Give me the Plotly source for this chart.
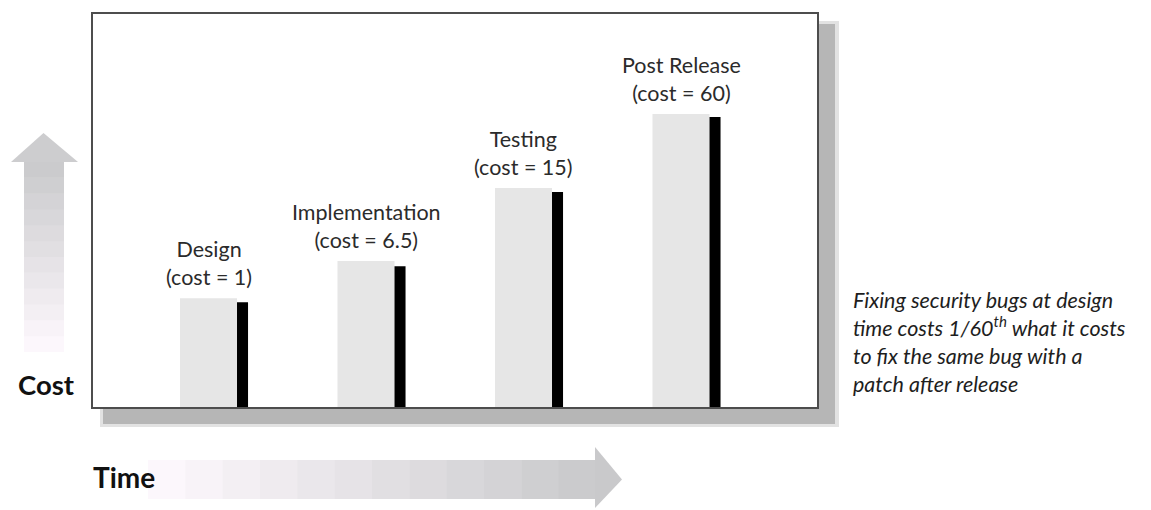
import plotly.graph_objects as go

W, H = 1151, 510

# ---- data ----
phases = ["Design", "Implementation", "Testing", "Post Release"]
cost_labels = ["cost = 1", "cost = 6.5", "cost = 15", "cost = 60"]
phase_pos = [0, 1, 2, 3]
bar_height = [27.8, 37.2, 55.7, 74.4]      # light grey bars (% of box height)
edge_height = [26.8, 35.9, 54.7, 73.7]     # black edge bars
note_lines = ["Fixing security bugs at design",
              "time costs 1/60<sup>th</sup> what it costs",
              "to fix the same bug with a",
              "patch after release"]

FONT = "Lato, Roboto, sans-serif"

def px(x):
    return x / W

def py(y):
    return 1 - y / H

fig = go.Figure()
fig.add_trace(go.Bar(x=phase_pos, y=bar_height, width=0.362, offset=-0.181,
                     marker=dict(color="#e6e6e6", line=dict(width=0)),
                     hoverinfo="skip", showlegend=False))
fig.add_trace(go.Bar(x=phase_pos, y=edge_height, width=0.07, offset=0.181,
                     marker=dict(color="#000000", line=dict(width=0)),
                     hoverinfo="skip", showlegend=False))

shapes = []
# drop shadow
shapes.append(dict(type="rect", xref="paper", yref="paper", layer="below",
                   x0=px(100), x1=px(839), y0=py(427), y1=py(21),
                   fillcolor="#e2e2e2", line=dict(width=0)))
shapes.append(dict(type="rect", xref="paper", yref="paper", layer="below",
                   x0=px(103), x1=px(835), y0=py(424), y1=py(24),
                   fillcolor="#b6b6b6", line=dict(width=0)))
# white box
shapes.append(dict(type="rect", xref="paper", yref="paper", layer="below",
                   x0=px(92), x1=px(818), y0=py(408), y1=py(13),
                   fillcolor="#ffffff", line=dict(width=0)))
# box border (on top of bars)
shapes.append(dict(type="rect", xref="paper", yref="paper", layer="above",
                   x0=px(92), x1=px(818), y0=py(408), y1=py(13),
                   fillcolor="rgba(0,0,0,0)", line=dict(color="#4d4d4d", width=2)))

# stepped gradient helper
def lerp(c0, c1, t):
    return "rgb(%d,%d,%d)" % tuple(round(a + (b - a) * t) for a, b in zip(c0, c1))

light = (252, 247, 252)
dark = (203, 203, 205)

# up arrow (Cost)
n = 12
y_bot, y_top = 352, 162
for i in range(n):
    ya = y_bot - (y_bot - y_top) * i / n
    yb = y_bot - (y_bot - y_top) * (i + 1) / n
    shapes.append(dict(type="rect", xref="paper", yref="paper", layer="below",
                       x0=px(24), x1=px(64), y0=py(ya), y1=py(yb - 0.5),
                       fillcolor=lerp(light, dark, i / (n - 1)), line=dict(width=0)))
shapes.append(dict(type="path", xref="paper", yref="paper", layer="below",
                   path="M %f %f L %f %f L %f %f Z" % (px(11), py(162), px(43.5), py(133), px(78), py(162)),
                   fillcolor="rgb(205,205,207)", line=dict(width=0)))

# right arrow (Time)
x_l, x_r = 148, 596
for i in range(n):
    xa = x_l + (x_r - x_l) * i / n
    xb = x_l + (x_r - x_l) * (i + 1) / n
    shapes.append(dict(type="rect", xref="paper", yref="paper", layer="below",
                       x0=px(xa), x1=px(xb + 0.5), y0=py(499), y1=py(460),
                       fillcolor=lerp(light, dark, i / (n - 1)), line=dict(width=0)))
shapes.append(dict(type="path", xref="paper", yref="paper", layer="below",
                   path="M %f %f L %f %f L %f %f Z" % (px(595), py(447), px(622), py(479.5), px(595), py(508)),
                   fillcolor="rgb(201,201,203)", line=dict(width=0)))

annotations = []
for p, name, cl, h in zip(phase_pos, phases, cost_labels, bar_height):
    annotations.append(dict(x=p, y=h, xref="x", yref="y", xanchor="center", yanchor="bottom",
                            yshift=6, showarrow=False,
                            text=f"{name}<br>({cl})",
                            font=dict(family=FONT, size=21.5, color="#2b2b2b")))
annotations.append(dict(x=px(16), y=py(384), xref="paper", yref="paper", xanchor="left",
                        yanchor="middle", showarrow=False, text="<b>Cost</b>",
                        font=dict(family=FONT, size=27.5, color="#111111")))
annotations.append(dict(x=px(91), y=py(477), xref="paper", yref="paper", xanchor="left",
                        yanchor="middle", showarrow=False, text="<b>Time</b>",
                        font=dict(family=FONT, size=28, color="#111111")))
annotations.append(dict(x=px(851), y=py(285), xref="paper", yref="paper", xanchor="left",
                        yanchor="top", align="left", showarrow=False,
                        text="<i>" + "<br>".join(note_lines) + "</i>",
                        font=dict(family=FONT, size=21.5, color="#1e1e1e")))

fig.update_layout(
    width=W, height=H,
    margin=dict(l=0, r=0, t=0, b=0),
    paper_bgcolor="#ffffff",
    plot_bgcolor="rgba(0,0,0,0)",
    barmode="overlay",
    showlegend=False,
    xaxis=dict(domain=[px(92), px(818)], range=[-0.7397, 3.8698],
               visible=False, fixedrange=True),
    yaxis=dict(domain=[py(408), py(13)], range=[0, 100],
               visible=False, fixedrange=True),
    shapes=shapes,
    annotations=annotations,
)

fig.write_html("out.html")
